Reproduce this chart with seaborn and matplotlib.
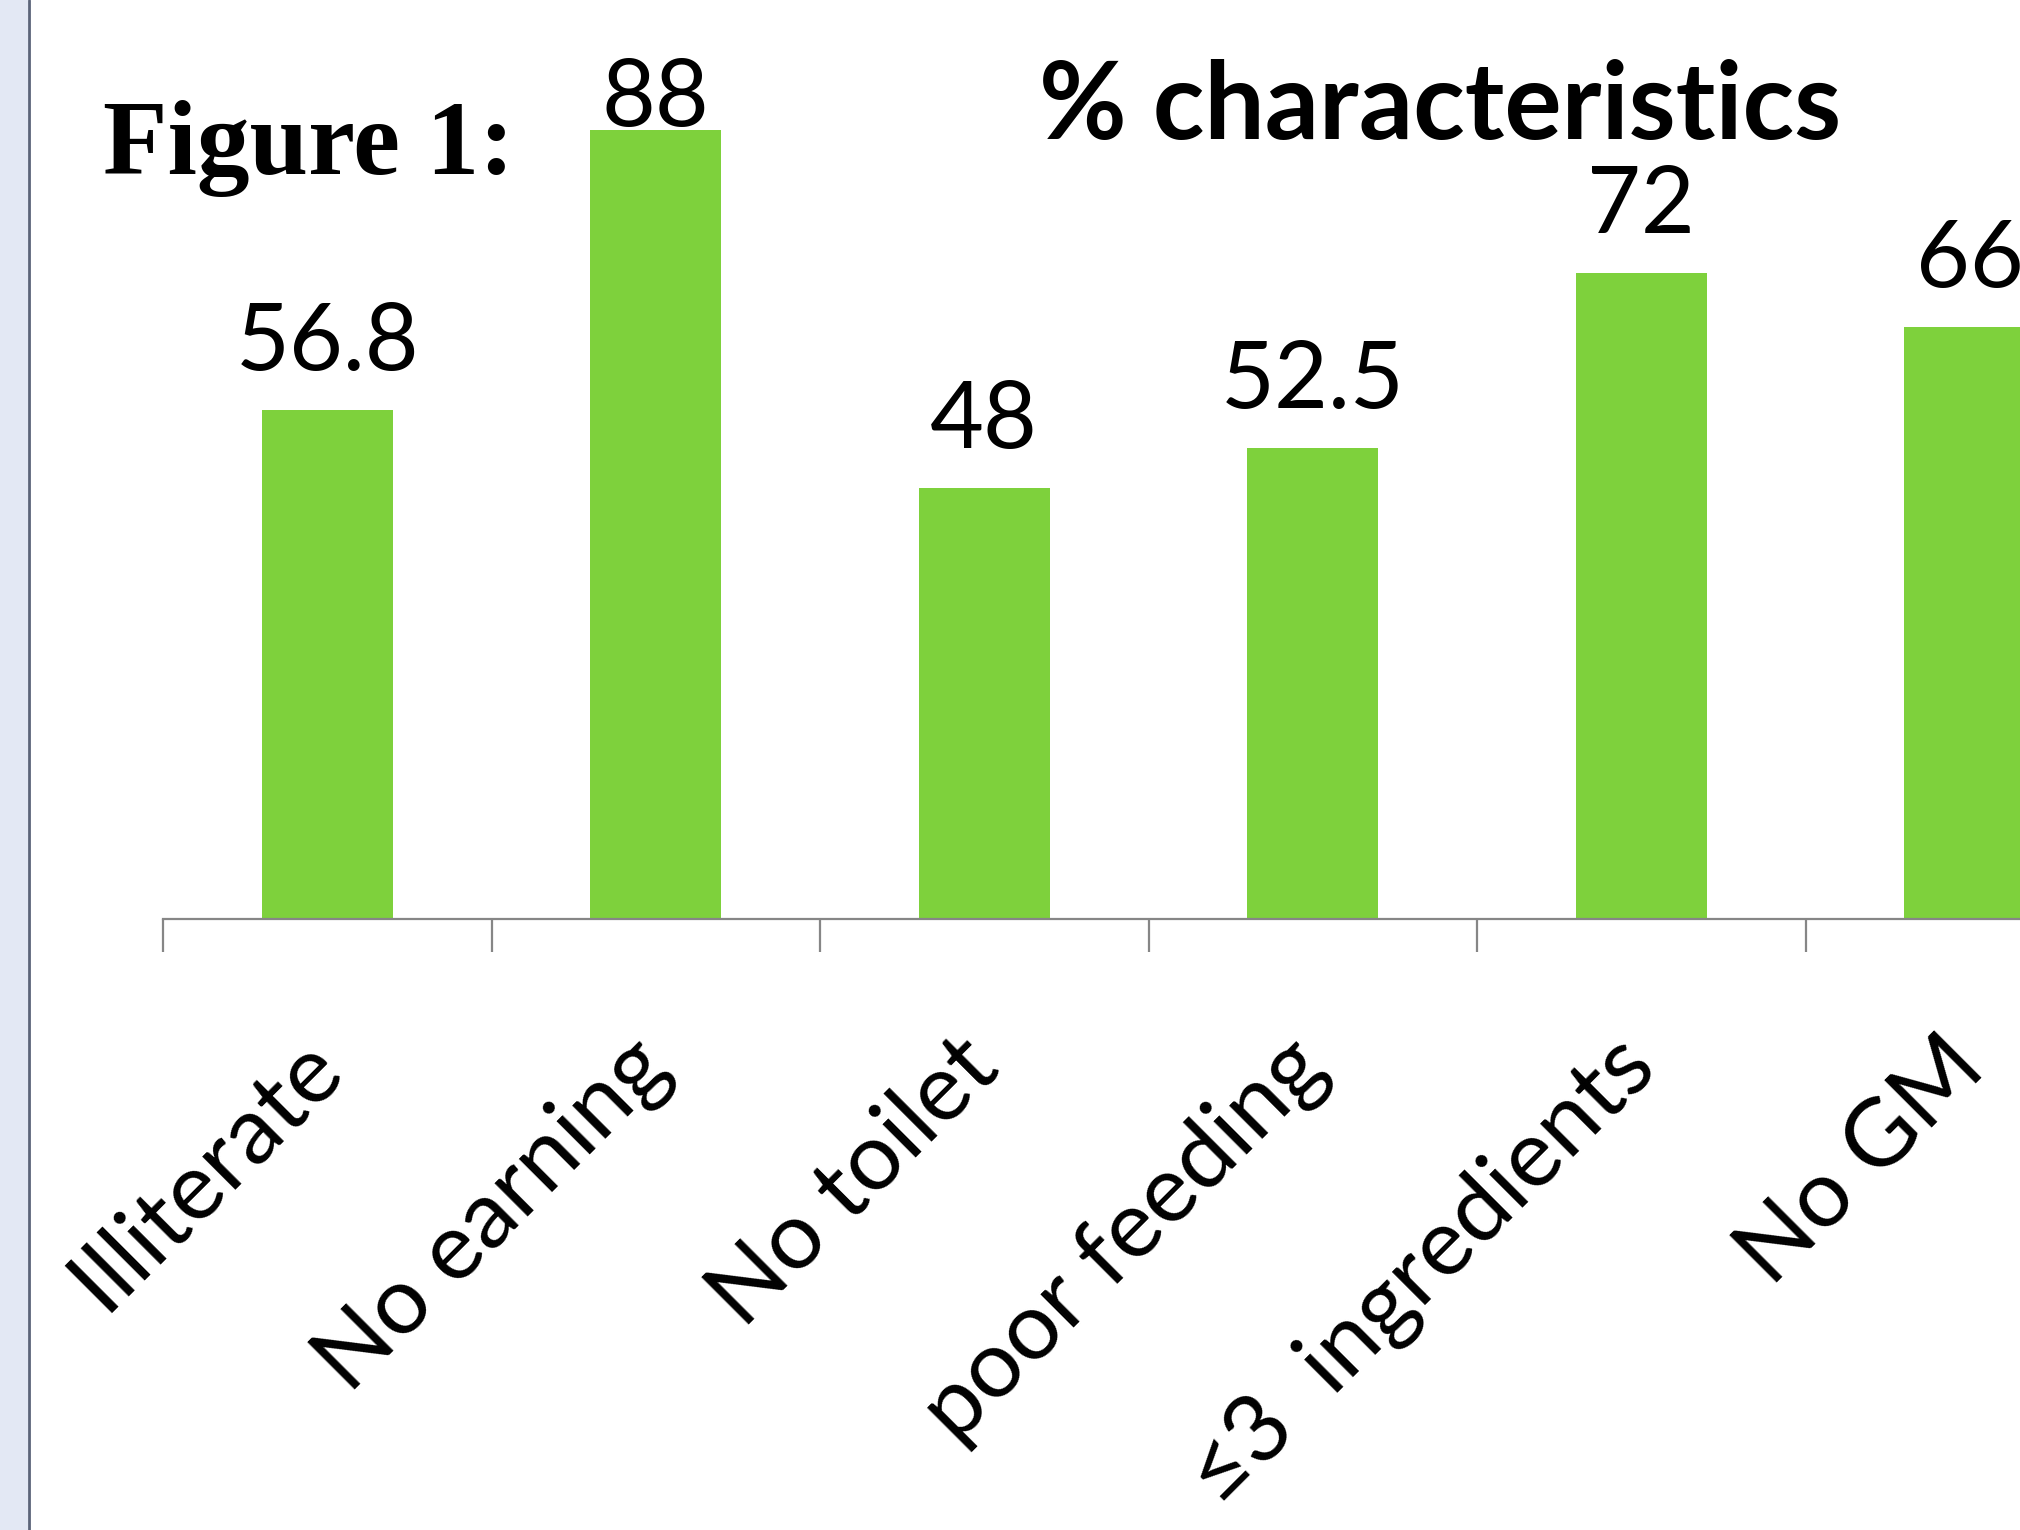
import matplotlib
matplotlib.use("Agg")
import matplotlib.pyplot as plt
import seaborn as sns
import pandas as pd
import numpy as np
from matplotlib.patches import Rectangle
from matplotlib.lines import Line2D

categories = ["Illiterate", "No earning", "No toilet", "poor feeding", "\u22643  ingredients", "No GM"]
values = [56.8, 88, 48, 52.5, 72, 66]
value_labels = ["56.8", "88", "48", "52.5", "72", "66"]
title = "% characteristics"
fig_label = "Figure 1:"

sns.set_theme(style="white")
plt.rcParams['font.family'] = ['Lato', 'DejaVu Sans']

W, H = 2020, 1530
fig = plt.figure(figsize=(W / 100, H / 100), dpi=100)
fig.patch.set_facecolor("white")

# left strip
fig.patches.append(Rectangle((0, 0), 28 / W, 1, transform=fig.transFigure,
                             facecolor="#E3E8F4", edgecolor="none", zorder=0))
fig.lines.append(Line2D([29 / W, 29 / W], [0, 1], transform=fig.transFigure,
                        color="#5B6479", linewidth=2.0))

ax_left = 163 / W
ax_right = 2134 / W
ax_bottom = 1 - 918.5 / H
ax_height = 896 / H
ax = fig.add_axes([ax_left, ax_bottom, ax_right - ax_left, ax_height])

df = pd.DataFrame({"category": categories, "value": values})
sns.barplot(data=df, x="category", y="value", color="#7ED13C", saturation=1,
            width=0.4, ax=ax, edgecolor="none")

ax.set_xlim(-0.5, len(categories) - 0.5)
ax.set_ylim(0, 100)
for s in ["top", "right", "left"]:
    ax.spines[s].set_visible(False)
ax.spines["bottom"].set_color("#868686")
ax.spines["bottom"].set_linewidth(1.6)
ax.set_yticks([])
ax.set_xlabel("")
ax.set_ylabel("")
ax.set_facecolor("none")

ax.set_xticks(np.arange(len(categories)))
ax.set_xticklabels(categories, rotation=45, ha="right", va="center",
                   rotation_mode="anchor", fontsize=68, color="black")
ax.tick_params(axis="x", which="major", length=0, pad=97, bottom=True)
ax.set_xticks(np.arange(len(categories) + 1) - 0.5, minor=True)
ax.tick_params(axis="x", which="minor", length=24, width=1.6, color="#868686",
               direction="out", bottom=True)

for i, (v, lab) in enumerate(zip(values, value_labels)):
    y = min(v + 4.46, 88.4)
    ax.text(i, y, lab, ha="center", va="baseline", fontsize=67, color="black",
            clip_on=False)

fig.text(1440 / W, 1 - 139 / H, title, ha="center", va="baseline",
         fontsize=77, fontweight="bold", color="black")
fig.text(103 / W, 1 - 174 / H, fig_label, ha="left", va="baseline",
         fontsize=76, fontweight="bold", color="black",
         family=["Liberation Serif", "DejaVu Serif"])

fig.savefig("out.png", dpi=100)
